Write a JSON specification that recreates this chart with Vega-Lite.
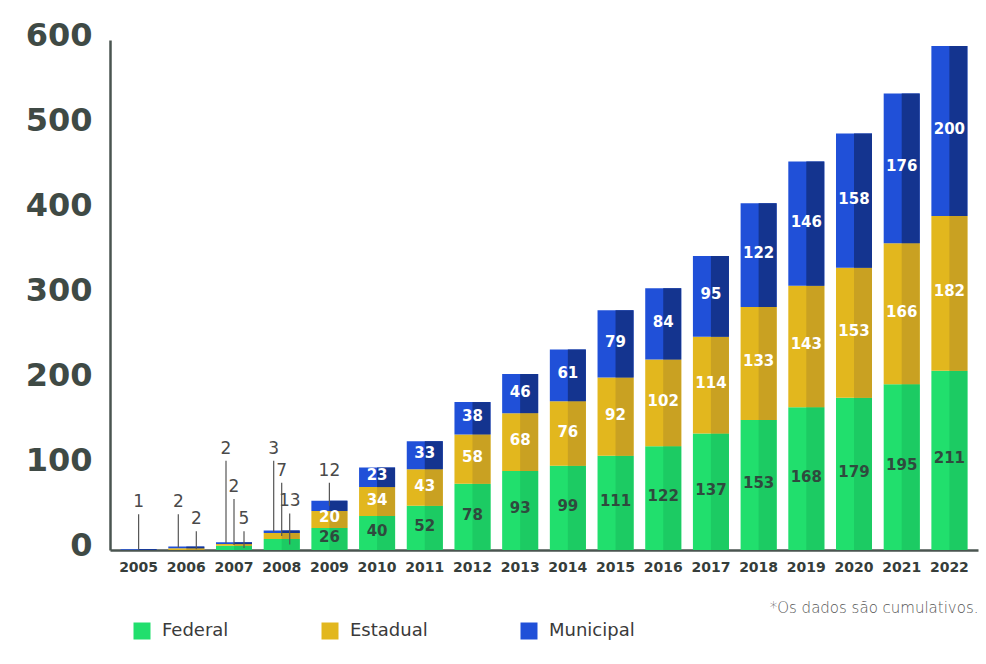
{
  "$schema": "https://vega.github.io/schema/vega-lite/v6.json",
  "autosize": {"type": "none"},
  "padding": {"left": 110, "top": 40, "right": 8, "bottom": 114},
  "width": 868,
  "height": 510,
  "background": "white",
  "config": {"view": {"stroke": null}, "font": "DejaVu Sans"},
  "data": {"values": [
    {"year": "2005", "series": "Municipal", "value": 1},
    {"year": "2006", "series": "Estadual", "value": 2},
    {"year": "2006", "series": "Municipal", "value": 2},
    {"year": "2007", "series": "Federal", "value": 5},
    {"year": "2007", "series": "Estadual", "value": 2},
    {"year": "2007", "series": "Municipal", "value": 2},
    {"year": "2008", "series": "Federal", "value": 13},
    {"year": "2008", "series": "Estadual", "value": 7},
    {"year": "2008", "series": "Municipal", "value": 3},
    {"year": "2009", "series": "Federal", "value": 26},
    {"year": "2009", "series": "Estadual", "value": 20},
    {"year": "2009", "series": "Municipal", "value": 12},
    {"year": "2010", "series": "Federal", "value": 40},
    {"year": "2010", "series": "Estadual", "value": 34},
    {"year": "2010", "series": "Municipal", "value": 23},
    {"year": "2011", "series": "Federal", "value": 52},
    {"year": "2011", "series": "Estadual", "value": 43},
    {"year": "2011", "series": "Municipal", "value": 33},
    {"year": "2012", "series": "Federal", "value": 78},
    {"year": "2012", "series": "Estadual", "value": 58},
    {"year": "2012", "series": "Municipal", "value": 38},
    {"year": "2013", "series": "Federal", "value": 93},
    {"year": "2013", "series": "Estadual", "value": 68},
    {"year": "2013", "series": "Municipal", "value": 46},
    {"year": "2014", "series": "Federal", "value": 99},
    {"year": "2014", "series": "Estadual", "value": 76},
    {"year": "2014", "series": "Municipal", "value": 61},
    {"year": "2015", "series": "Federal", "value": 111},
    {"year": "2015", "series": "Estadual", "value": 92},
    {"year": "2015", "series": "Municipal", "value": 79},
    {"year": "2016", "series": "Federal", "value": 122},
    {"year": "2016", "series": "Estadual", "value": 102},
    {"year": "2016", "series": "Municipal", "value": 84},
    {"year": "2017", "series": "Federal", "value": 137},
    {"year": "2017", "series": "Estadual", "value": 114},
    {"year": "2017", "series": "Municipal", "value": 95},
    {"year": "2018", "series": "Federal", "value": 153},
    {"year": "2018", "series": "Estadual", "value": 133},
    {"year": "2018", "series": "Municipal", "value": 122},
    {"year": "2019", "series": "Federal", "value": 168},
    {"year": "2019", "series": "Estadual", "value": 143},
    {"year": "2019", "series": "Municipal", "value": 146},
    {"year": "2020", "series": "Federal", "value": 179},
    {"year": "2020", "series": "Estadual", "value": 153},
    {"year": "2020", "series": "Municipal", "value": 158},
    {"year": "2021", "series": "Federal", "value": 195},
    {"year": "2021", "series": "Estadual", "value": 166},
    {"year": "2021", "series": "Municipal", "value": 176},
    {"year": "2022", "series": "Federal", "value": 211},
    {"year": "2022", "series": "Estadual", "value": 182},
    {"year": "2022", "series": "Municipal", "value": 200}
  ]},
  "transform": [
    {"calculate": "indexof(['Federal','Estadual','Municipal'], datum.series)", "as": "so"},
    {"stack": "value", "groupby": ["year"], "sort": [{"field": "so", "order": "ascending"}], "as": ["v0", "v1"]},
    {"calculate": "(datum.v0 + datum.v1) / 2", "as": "mid"}
  ],
  "encoding": {
    "x": {
      "field": "year", "type": "ordinal",
      "scale": {"paddingInner": 0.245, "paddingOuter": 0.2225},
      "axis": {
        "title": "*Os dados são cumulativos.",
        "titleAnchor": "end", "titleFontSize": 15, "titleFontWeight": 200, "titleColor": "#555555", "titlePadding": 26,
        "labelAngle": 0, "labelFontSize": 14, "labelFontWeight": "bold", "labelColor": "#363d3a", "labelPadding": 10,
        "ticks": false, "tickSize": 0, "domainColor": "#4a5550", "domainWidth": 2.5
      }
    }
  },
  "layer": [
    {
      "mark": {"type": "bar", "width": {"band": 1}},
      "encoding": {
        "y": {"field": "v1", "type": "quantitative", "scale": {"domain": [0, 600], "nice": false},
          "axis": {"title": null, "values": [0, 100, 200, 300, 400, 500, 600], "grid": false, "ticks": false, "tickSize": 0,
            "labelFontSize": 32, "labelFontWeight": "bold", "labelColor": "#3f4a45", "labelPadding": 18, "labelOffset": -5,
            "domainColor": "#4a5550", "domainWidth": 2.5}},
        "y2": {"field": "v0"},
        "color": {"field": "series", "type": "nominal",
          "scale": {"domain": ["Federal", "Estadual", "Municipal"], "range": ["#21df6d", "#e2b71e", "#2050d8"]},
          "legend": {"orient": "none", "legendX": 23, "legendY": 582, "direction": "horizontal", "columns": 3,
            "title": null, "symbolType": "square", "symbolSize": 289, "symbolStrokeWidth": 0, "symbolOpacity": 1,
            "labelFontSize": 18, "labelColor": "#3a3a3a", "labelOffset": 11, "columnPadding": 92, "padding": 0}}
      }
    },
    {
      "mark": {"type": "bar", "width": 18, "xOffset": 9},
      "encoding": {
        "y": {"field": "v1", "type": "quantitative"},
        "y2": {"field": "v0"},
        "color": {"condition": [
          {"test": "datum.series === 'Federal'", "value": "#1ccb63"},
          {"test": "datum.series === 'Estadual'", "value": "#c9a122"}
        ], "value": "#14348f"}
      }
    },
    {
      "transform": [{"filter": "datum.value >= 20"}],
      "mark": {"type": "text", "fontSize": 15, "fontWeight": "bold", "baseline": "middle", "dy": -2},
      "encoding": {
        "y": {"field": "mid", "type": "quantitative"},
        "text": {"field": "value", "type": "quantitative"},
        "color": {"condition": {"test": "datum.series === 'Federal'", "value": "#2f4a3e"}, "value": "#ffffff"}
      }
    },
    {
      "transform": [{"filter": "(datum.year === '2006' && datum.series === 'Estadual') || (datum.year === '2007' && datum.series === 'Federal')"}],
      "layer": [
        {"mark": {"type": "rule", "color": "#555555", "strokeWidth": 1.2, "xOffset": 10},
         "encoding": {"y": {"field": "mid", "type": "quantitative"}, "y2": {"datum": 22}}},
        {"mark": {"type": "text", "xOffset": 10, "baseline": "bottom", "dy": -3, "fontSize": 17, "color": "#4a4a4a"},
         "encoding": {"y": {"datum": 22}, "text": {"field": "value", "type": "quantitative"}}}
      ]
    },
    {
      "transform": [{"filter": "datum.year === '2005' && datum.series === 'Municipal'"}],
      "layer": [
        {"mark": {"type": "rule", "color": "#555555", "strokeWidth": 1.2},
         "encoding": {"y": {"field": "mid", "type": "quantitative"}, "y2": {"datum": 42}}},
        {"mark": {"type": "text", "baseline": "bottom", "dy": -3, "fontSize": 17, "color": "#4a4a4a"},
         "encoding": {"y": {"datum": 42}, "text": {"field": "value", "type": "quantitative"}}}
      ]
    },
    {
      "transform": [{"filter": "datum.year === '2006' && datum.series === 'Municipal'"}],
      "layer": [
        {"mark": {"type": "rule", "color": "#555555", "strokeWidth": 1.2, "xOffset": -8},
         "encoding": {"y": {"field": "mid", "type": "quantitative"}, "y2": {"datum": 42}}},
        {"mark": {"type": "text", "xOffset": -8, "baseline": "bottom", "dy": -3, "fontSize": 17, "color": "#4a4a4a"},
         "encoding": {"y": {"datum": 42}, "text": {"field": "value", "type": "quantitative"}}}
      ]
    },
    {
      "transform": [{"filter": "datum.year === '2008' && datum.series === 'Federal'"}],
      "layer": [
        {"mark": {"type": "rule", "color": "#555555", "strokeWidth": 1.2, "xOffset": 8},
         "encoding": {"y": {"field": "mid", "type": "quantitative"}, "y2": {"datum": 43}}},
        {"mark": {"type": "text", "xOffset": 8, "baseline": "bottom", "dy": -3, "fontSize": 17, "color": "#4a4a4a"},
         "encoding": {"y": {"datum": 43}, "text": {"field": "value", "type": "quantitative"}}}
      ]
    },
    {
      "transform": [{"filter": "datum.year === '2007' && datum.series === 'Estadual'"}],
      "layer": [
        {"mark": {"type": "rule", "color": "#555555", "strokeWidth": 1.2},
         "encoding": {"y": {"field": "mid", "type": "quantitative"}, "y2": {"datum": 60}}},
        {"mark": {"type": "text", "baseline": "bottom", "dy": -3, "fontSize": 17, "color": "#4a4a4a"},
         "encoding": {"y": {"datum": 60}, "text": {"field": "value", "type": "quantitative"}}}
      ]
    },
    {
      "transform": [{"filter": "(datum.year === '2008' && datum.series === 'Estadual') || (datum.year === '2009' && datum.series === 'Municipal')"}],
      "layer": [
        {"mark": {"type": "rule", "color": "#555555", "strokeWidth": 1.2},
         "encoding": {"y": {"field": "mid", "type": "quantitative"}, "y2": {"datum": 79}}},
        {"mark": {"type": "text", "baseline": "bottom", "dy": -3, "fontSize": 17, "color": "#4a4a4a"},
         "encoding": {"y": {"datum": 79}, "text": {"field": "value", "type": "quantitative"}}}
      ]
    },
    {
      "transform": [{"filter": "(datum.year === '2007' || datum.year === '2008') && datum.series === 'Municipal'"}],
      "layer": [
        {"mark": {"type": "rule", "color": "#555555", "strokeWidth": 1.2, "xOffset": -8},
         "encoding": {"y": {"field": "mid", "type": "quantitative"}, "y2": {"datum": 105}}},
        {"mark": {"type": "text", "xOffset": -8, "baseline": "bottom", "dy": -3, "fontSize": 17, "color": "#4a4a4a"},
         "encoding": {"y": {"datum": 105}, "text": {"field": "value", "type": "quantitative"}}}
      ]
    }
  ]
}
